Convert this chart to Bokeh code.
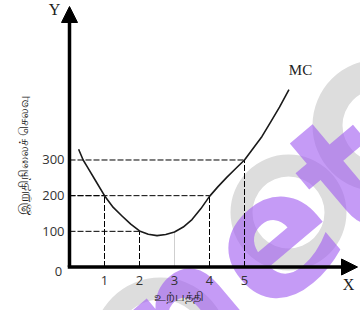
from bokeh.plotting import figure
from bokeh.models import Range1d, Arrow, NormalHead
from bokeh.core.properties import value
from bokeh.embed import file_html
from bokeh.resources import INLINE

# ---- data ----
output = [0.26, 0.39, 0.5, 0.75, 1.0, 1.25, 1.5, 1.75, 2.0, 2.25, 2.5, 2.75, 3.0,
          3.25, 3.5, 3.75, 4.0, 4.25, 4.5, 4.75, 5.0, 5.25, 5.5, 5.75, 6.0, 6.27]
mc = [330, 300, 282, 241, 200, 167, 143, 120, 101, 92, 88, 91, 98,
      112, 133, 163, 198, 226, 252, 276, 300, 333, 366, 407, 448, 497]

x_ticks = [1, 2, 3, 4, 5]
x_tick_labels = ["1", "2", "3", "4", "5"]
y_ticks = [100, 200, 300]
y_tick_labels = ["100", "200", "300"]

# points on the curve that get dashed guide lines
guide_x = [1, 2, 4, 5]
guide_y = [200, 100, 200, 300]
grey_x = 3
grey_y = 98

x_label = "உற்பத்தி"
y_label = "இறுதிநிலைச் செலவு"
curve_label = "MC"
watermark = "net"

# ---- layout (page pixel mapping) ----
W, H = 360, 310
X0, SX = 69, 35.0      # page x of origin, px per unit
Y0, SY = 266.5, 0.3567  # page y of origin, px per unit


def dx(px):
    return (px - X0) / SX


def dy(py):
    return (Y0 - py) / SY


p = figure(width=W, height=H, output_backend="svg", toolbar_location=None,
           x_range=Range1d(dx(0), dx(W)), y_range=Range1d(dy(H), dy(0)),
           min_border=0, border_fill_color="white", background_fill_color="white")
p.axis.visible = False
p.grid.visible = False
p.outline_line_color = None

# watermark: grey rings + purple "net"
ring_px = [(288, 212, 36, 58), (378, 125, 36, 66), (160, 345, 46, 68)]
for cx, cy, ri, ro in ring_px:
    p.annulus(x=[dx(cx)], y=[dy(cy)], inner_radius=ri, outer_radius=ro,
              inner_radius_units="screen", outer_radius_units="screen",
              fill_color="#dddddd", line_color=None)
p.text(x=[dx(256)], y=[dy(250)], text=[watermark], angle=0.70,
       text_font=value("DejaVu Sans"), text_font_style="bold",
       text_font_size="170px", text_color="#a25df0", text_alpha=0.62,
       text_align="center", text_baseline="middle")

# guide lines
for gx, gy in zip(guide_x, guide_y):
    p.line([0, gx], [gy, gy], line_color="black", line_width=1, line_dash="6 2")
    p.line([gx, gx], [0, gy], line_color="black", line_width=1, line_dash="6 2")
p.line([grey_x, grey_x], [0, grey_y], line_color="#cfcfcf", line_width=1)

# MC curve
p.line(output, mc, line_color="#1a1a1a", line_width=1.6, line_join="round")

# axes with arrows
p.add_layout(Arrow(x_start=0, y_start=0, x_end=0, y_end=dy(6),
                   line_width=3.5, line_color="black",
                   end=NormalHead(size=16, fill_color="black", line_color="black")))
p.add_layout(Arrow(x_start=-0.05, y_start=0, x_end=dx(357), y_end=0,
                   line_width=3.5, line_color="black",
                   end=NormalHead(size=16, fill_color="black", line_color="black")))

# tick labels
p.text(x=x_ticks, y=[0] * len(x_ticks), text=x_tick_labels, y_offset=13,
       text_font=value("Open Sans"), text_font_size="13px", text_color="#333333",
       text_align="center", text_baseline="middle")
p.text(x=[0] * len(y_ticks), y=y_ticks, text=y_tick_labels, x_offset=-5,
       text_font=value("Open Sans"), text_font_size="13px", text_color="#333333",
       text_align="right", text_baseline="middle")
p.text(x=[dx(58)], y=[dy(271)], text=["0"],
       text_font=value("Open Sans"), text_font_size="13px", text_color="#333333",
       text_align="center", text_baseline="middle")

# axis letters and curve label
p.text(x=[dx(54)], y=[dy(9)], text=["Y"], text_font=value("Liberation Serif"),
       text_font_size="16px", text_color="#222222", text_align="center", text_baseline="middle")
p.text(x=[dx(348)], y=[dy(284)], text=["X"], text_font=value("Liberation Serif"),
       text_font_size="16px", text_color="#222222", text_align="center", text_baseline="middle")
p.text(x=[dx(300)], y=[dy(69)], text=[curve_label], text_font=value("Liberation Serif"),
       text_font_size="15px", text_color="#222222", text_align="center", text_baseline="middle")

# axis titles
p.text(x=[dx(178)], y=[dy(296)], text=[x_label], text_font_size="13px",
       text_color="#222222", text_align="center", text_baseline="middle")
p.text(x=[dx(23)], y=[dy(155)], text=[y_label], angle=1.5708, text_font_size="13px",
       text_color="#222222", text_align="center", text_baseline="middle")

open("out.html", "w").write(file_html(p, INLINE))
